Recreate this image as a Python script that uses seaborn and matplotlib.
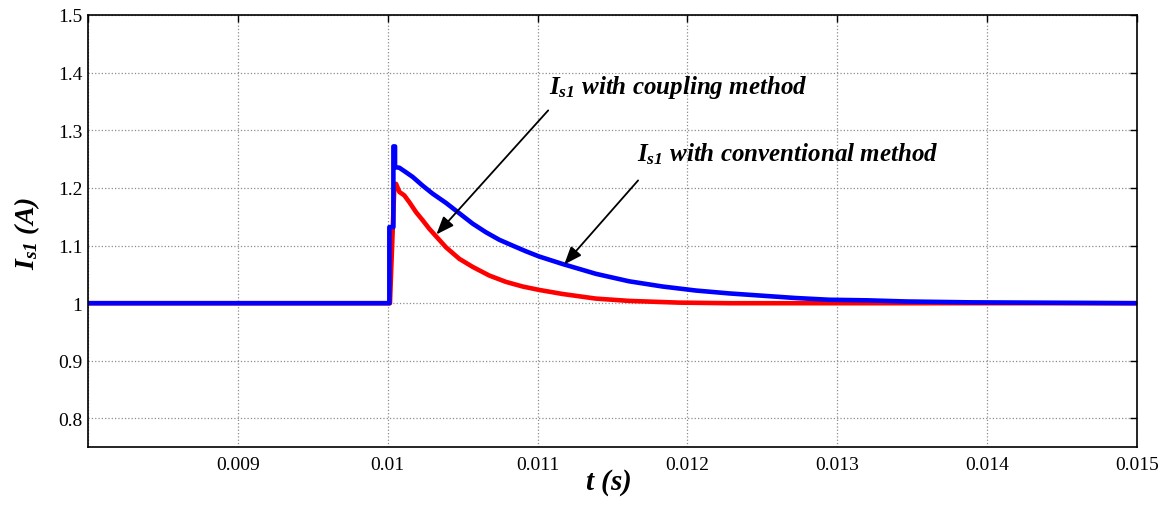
import numpy as np
import pandas as pd
import matplotlib
matplotlib.use("Agg")
import matplotlib.pyplot as plt
import seaborn as sns

# ---- data ----
t_conv = [0.008, 0.010011, 0.010011, 0.010038, 0.010038, 0.010049, 0.010049,
          0.010078, 0.010123, 0.010167, 0.010233, 0.0103, 0.010389, 0.010478,
          0.010567, 0.010656, 0.010745, 0.010833, 0.010923, 0.011011, 0.011167,
          0.011389, 0.011611, 0.011833, 0.012056, 0.012278, 0.0125, 0.012723,
          0.012945, 0.0132, 0.01346, 0.01389, 0.01466, 0.015]
i_conv = [1.0, 1.0, 1.132, 1.132, 1.272, 1.272, 1.236,
          1.235, 1.227, 1.219, 1.204, 1.190, 1.174, 1.156,
          1.138, 1.123, 1.110, 1.100, 1.090, 1.081, 1.068,
          1.051, 1.038, 1.029, 1.022, 1.017, 1.013, 1.009,
          1.006, 1.005, 1.003, 1.0015, 1.0005, 1.0]

t_coup = [0.008, 0.010015, 0.010045, 0.010056, 0.010078, 0.010111, 0.010145,
          0.010189, 0.010233, 0.010278, 0.010323, 0.010389, 0.010478, 0.010567,
          0.010678, 0.010789, 0.0109, 0.011011, 0.011167, 0.011389, 0.011611,
          0.011945, 0.012278, 0.013, 0.015]
i_coup = [1.0, 1.0, 1.207, 1.207, 1.193, 1.187, 1.175,
          1.158, 1.144, 1.129, 1.116, 1.097, 1.077, 1.063,
          1.048, 1.037, 1.029, 1.023, 1.016, 1.008, 1.004,
          1.001, 1.0, 1.0, 1.0]

x_ticks = [0.008, 0.009, 0.010, 0.011, 0.012, 0.013, 0.014, 0.015]
x_tick_labels = ["", "0.009", "0.01", "0.011", "0.012", "0.013", "0.014", "0.015"]
y_ticks = [0.8, 0.9, 1.0, 1.1, 1.2, 1.3, 1.4, 1.5]
y_tick_labels = ["0.8", "0.9", "1", "1.1", "1.2", "1.3", "1.4", "1.5"]

ann_coup_text = r"$I_{s1}$ with coupling method"
ann_conv_text = r"$I_{s1}$ with conventional method"

# ---- style ----
sns.set_theme(style="white")
plt.rcParams["font.family"] = ["Liberation Serif", "DejaVu Serif"]
plt.rcParams["text.color"] = "black"
plt.rcParams["mathtext.fontset"] = "custom"
plt.rcParams["mathtext.it"] = "Liberation Serif:italic:bold"
plt.rcParams["mathtext.rm"] = "Liberation Serif:italic:bold"
plt.rcParams["mathtext.bf"] = "Liberation Serif:italic:bold"

fig = plt.figure(figsize=(11.73, 5.06), dpi=100)
ax = fig.add_axes([0.0750, 0.1140, 0.8943, 0.8544])

df_coup = pd.DataFrame({"t": t_coup, "I": i_coup})
df_conv = pd.DataFrame({"t": t_conv, "I": i_conv})

sns.lineplot(data=df_coup, x="t", y="I", ax=ax, color="#ff0000", lw=3.3,
             estimator=None, sort=False)
sns.lineplot(data=df_conv, x="t", y="I", ax=ax, color="#0000ff", lw=3.3,
             estimator=None, sort=False)

ax.set_xlim(0.008, 0.015)
ax.set_ylim(0.75, 1.5)
ax.set_xticks(x_ticks)
ax.set_xticklabels(x_tick_labels)
ax.set_yticks(y_ticks)
ax.set_yticklabels(y_tick_labels)
ax.tick_params(direction="in", length=5, width=1, top=True, right=True,
               labelsize=14, colors="black")
ax.tick_params(axis="x", pad=6)
ax.tick_params(axis="y", pad=4)
ax.grid(True, color="#8c8c8c", linestyle=":", linewidth=0.9)
for s in ax.spines.values():
    s.set_visible(True)
    s.set_color("black")
    s.set_linewidth(1.2)

ax.set_xlabel(r"$t$ (s)", fontsize=21, fontweight="bold", fontstyle="italic",
              color="black", va="center")
ax.xaxis.set_label_coords(0.496, -0.080)
ax.set_ylabel(r"$I_{s1}$ (A)", fontsize=20, fontweight="bold", fontstyle="italic",
              color="black", va="center")
ax.yaxis.set_label_coords(-0.058, 0.496)

arrow_kw = dict(arrowstyle="-|>,head_length=0.9,head_width=0.35", color="black", lw=1.3,
                shrinkA=0, shrinkB=0)
ax.annotate("", xy=(0.010325, 1.1193), xytext=(0.011071, 1.3345), arrowprops=arrow_kw)
ax.annotate("", xy=(0.011178, 1.0672), xytext=(0.011671, 1.2130), arrowprops=arrow_kw)
ax.text(0.011078, 1.3641, ann_coup_text, fontsize=18, fontweight="bold",
        fontstyle="italic", ha="left", va="baseline", color="black")
ax.text(0.011665, 1.2477, ann_conv_text, fontsize=18, fontweight="bold",
        fontstyle="italic", ha="left", va="baseline", color="black")

if ax.get_legend() is not None:
    ax.get_legend().remove()

fig.savefig("out.png", dpi=100)
